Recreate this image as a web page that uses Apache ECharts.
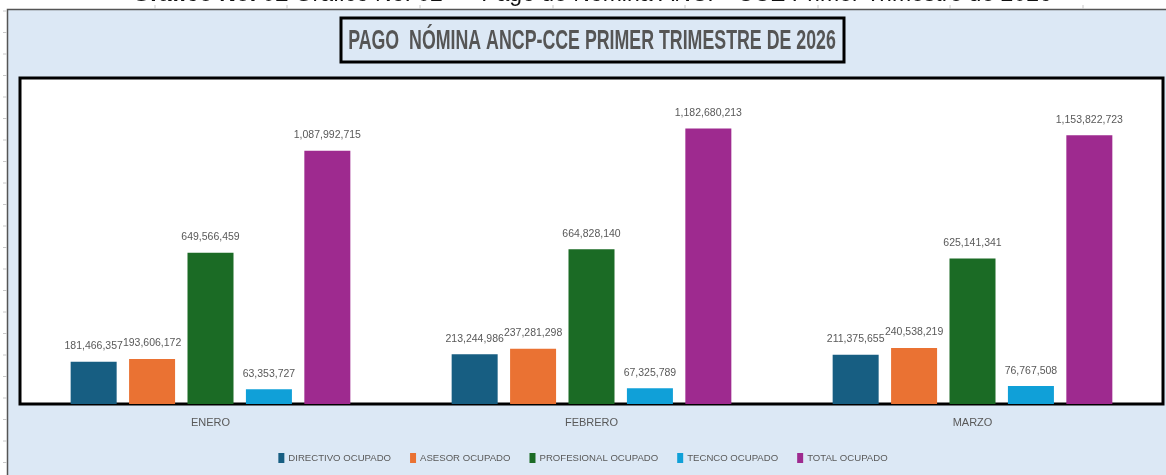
<!DOCTYPE html>
<html>
<head>
<meta charset="utf-8">
<script src="https://cdn.jsdelivr.net/npm/echarts@6/dist/echarts.min.js"></script>
<style>
  html, body { margin: 0; padding: 0; background: #fff; }
  #chart { width: 1166px; height: 475px; }
</style>
</head>
<body>
<div id="chart"></div>
<script>
// datos del grafico
var meses = ['ENERO', 'FEBRERO', 'MARZO'];
var directivo = [181466357, 213244986, 211375655];
var asesor = [193606172, 237281298, 240538219];
var profesional = [649566459, 664828140, 625141341];
var tecnico = [63353727, 67325789, 76767508];
var total = [1087992715, 1182680213, 1153822723];
var nombres = ['DIRECTIVO OCUPADO', 'ASESOR OCUPADO', 'PROFESIONAL OCUPADO', 'TECNCO OCUPADO', 'TOTAL OCUPADO'];
var colores = ['#175e82', '#ea7233', '#1b6b25', '#10a0d8', '#9e2a8f'];

var fuente = "'Liberation Sans', Arial, sans-serif";

var chartPago = {
    chart: null,
    init: function init() {
        var that = this;
        that.chart = echarts.init(document.getElementById('chart'));
        that.chart.setOption(that.getOption());
    },
    getSeries: function getSeries() {
        var datos = [directivo, asesor, profesional, tecnico, total];
        var series = [];
        for (var i = 0; i < datos.length; i++) {
            series.push({
                name: nombres[i],
                type: 'bar',
                data: datos[i],
                barWidth: 46,
                barGap: '27%',
                itemStyle: { color: colores[i] },
                label: {
                    show: true,
                    position: 'top',
                    distance: 10,
                    color: '#595959',
                    fontFamily: fuente,
                    fontSize: 10.5,
                    formatter: function (p) {
                        return p.value.toLocaleString('en-US');
                    }
                }
            });
        }
        return series;
    },
    // marcas de filas de excel al borde izquierdo
    getDecor: function getDecor() {
        var items = [];
        for (var y = 11; y < 475; y += 21.5) {
            items.push({
                type: 'line',
                shape: { x1: 3, y1: y, x2: 7, y2: y },
                style: { stroke: '#c8c8c8', lineWidth: 1 }
            });
        }
        var cols = [155, 287, 420, 553, 685, 818, 950, 1083];
        for (var j = 0; j < cols.length; j++) {
            items.push({
                type: 'line',
                shape: { x1: cols[j], y1: 5, x2: cols[j], y2: 9 },
                style: { stroke: '#c8c8c8', lineWidth: 1 }
            });
        }
        // panel azul
        items.push({
            type: 'rect',
            z: -10,
            shape: { x: 7.5, y: 9.5, width: 1170, height: 480 },
            style: { fill: '#dce8f5', stroke: '#555', lineWidth: 1.5 }
        });
        // titulo recortado arriba
        items.push({
            type: 'text',
            x: 592,
            y: -17,
            style: {
                text: '{b|Gráfico No. 02} Gráfico No. 02  –  Pago de Nómina ANCP- CCE Primer Trimestre de 2026',
                align: 'center',
                verticalAlign: 'top',
                fill: '#111',
                fontFamily: "'Liberation Sans', 'DejaVu Sans', sans-serif",
                fontSize: 23,
                rich: {
                    b: { fontWeight: 'bold', fontSize: 23, fill: '#111', fontFamily: "'Liberation Sans', 'DejaVu Sans', sans-serif" }
                }
            }
        });
        // caja del titulo
        items.push({
            type: 'rect',
            shape: { x: 341, y: 18, width: 503, height: 44 },
            style: { fill: '#dce8f5', stroke: '#000', lineWidth: 3 }
        });
        items.push({
            type: 'text',
            x: 592,
            y: 41,
            scaleX: 0.635,
            style: {
                text: 'PAGO  NÓMINA ANCP-CCE PRIMER TRIMESTRE DE 2026',
                align: 'center',
                verticalAlign: 'middle',
                fill: '#555',
                fontFamily: fuente,
                fontWeight: 'bold',
                fontSize: 28
            }
        });
        return items;
    },
    getOption: function getOption() {
        var option = {
            backgroundColor: '#fff',
            animation: false,
            graphic: this.getDecor(),
            legend: {
                bottom: 7,
                left: 'center',
                itemWidth: 6,
                itemHeight: 10,
                itemGap: 19,
                icon: 'rect',
                textStyle: { color: '#595959', fontFamily: fuente, fontSize: 9.6, padding: [0, 0, 0, -1] },
                data: nombres
            },
            grid: {
                left: 20,
                right: 3,
                top: 78,
                bottom: 71,
                show: true,
                backgroundColor: '#fff',
                borderColor: '#000',
                borderWidth: 3
            },
            xAxis: {
                type: 'category',
                data: meses,
                axisLine: { lineStyle: { color: '#000', width: 2 } },
                axisTick: { show: false },
                axisLabel: { color: '#595959', fontFamily: fuente, fontSize: 11, margin: 13 }
            },
            yAxis: {
                type: 'value',
                min: 0,
                max: 1400000000,
                show: false,
                splitLine: { show: false }
            },
            series: this.getSeries()
        };
        return option;
    }
};

window.onload = function () {
    chartPago.init();
};
</script>
</body>
</html>
